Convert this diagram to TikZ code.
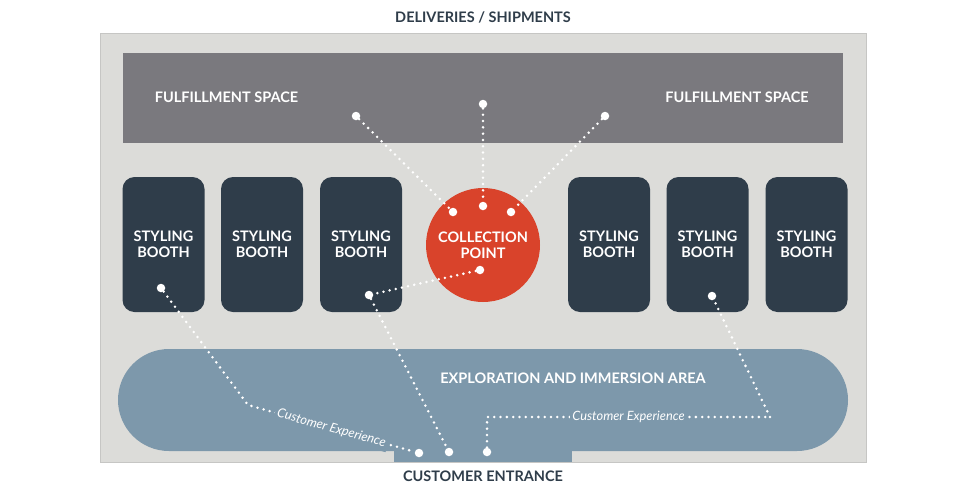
\documentclass[tikz,border=0pt]{standalone}
\usepackage{fontspec}
\setmainfont{Lato}
\definecolor{bgG}{HTML}{DCDCD9}
\definecolor{borderC}{HTML}{C6C6C4}
\definecolor{fulC}{HTML}{7A797E}
\definecolor{boothC}{HTML}{2F3D4A}
\definecolor{redC}{HTML}{D9432B}
\definecolor{areaC}{HTML}{7D98AB}
\begin{document}
\begin{tikzpicture}[x=1pt,y=-1pt,
  lbl/.style={text=white, font=\bfseries\fontsize{14.5}{16}\selectfont, align=center, inner sep=0pt},
  darklbl/.style={text=boothC, font=\bfseries\fontsize{14.5}{16}\selectfont, inner sep=0pt},
  booth/.style={fill=boothC, rounded corners=12pt, minimum width=82pt, minimum height=135pt, lbl},
  pathdot/.style={draw=white, line width=2.8pt, dash pattern=on 0pt off 6.3pt, line cap=round},
  enddot/.style={circle, fill=white, inner sep=0pt, minimum size=8.5pt},
  cx/.style={text=white, font=\itshape\fontsize{12.8}{14}\selectfont, fill=areaC, inner sep=2.5pt}]
\useasboundingbox (0,0) rectangle (965,490);
\fill[white] (0,0) rectangle (965,490);
% outer floor
\node[fill=bgG, draw=borderC, line width=1pt, minimum width=766pt, minimum height=429pt, inner sep=0pt] (floor) at (483,247.5) {};
% fulfillment
\node[fill=fulC, minimum width=720pt, minimum height=90pt, inner sep=0pt] (ful) at (483,98) {};
\node[lbl] (fl1) at (226.5,97) {FULFILLMENT SPACE};
\node[lbl] (fl2) at (737,97) {FULFILLMENT SPACE};
% booths
\node[booth] (bo1) at (163.5,244.5) {STYLING\\BOOTH};
\node[booth] (bo2) at (262,244.5) {STYLING\\BOOTH};
\node[booth] (bo3) at (361,244.5) {STYLING\\BOOTH};
\node[booth] (bo4) at (609,244.5) {STYLING\\BOOTH};
\node[booth] (bo5) at (707.5,244.5) {STYLING\\BOOTH};
\node[booth] (bo6) at (806.5,244.5) {STYLING\\BOOTH};
% collection point
\node[circle, fill=redC, minimum size=114pt, inner sep=0pt, lbl] (cp) at (483,245) {COLLECTION\\POINT};
% exploration area
\node[fill=areaC, rounded corners=51pt, minimum width=730pt, minimum height=102pt, inner sep=0pt] (area) at (483,400) {};
\fill[areaC] (394,440) rectangle (572,462);
\node[lbl] (arealbl) at (573,378) {EXPLORATION AND IMMERSION AREA};
% titles
\node[darklbl] (deliv) at (483,17) {DELIVERIES / SHIPMENTS};
\node[darklbl] (entr) at (483,476) {CUSTOMER ENTRANCE};
% path points
\node[enddot] (f1) at (356,116) {};
\node[enddot] (f2) at (483,104) {};
\node[enddot] (f3) at (605,116) {};
\node[enddot] (c1) at (453,212) {};
\node[enddot] (c2) at (483,206) {};
\node[enddot] (c3) at (511,212) {};
\node[enddot] (c4) at (480,270) {};
\node[enddot] (b1) at (161,288) {};
\node[enddot] (b3) at (369,295) {};
\node[enddot] (b5) at (712,296) {};
\node[enddot] (e1) at (419,453) {};
\node[enddot] (e2) at (449,452) {};
\node[enddot] (e3) at (487,452) {};
\coordinate (k1) at (248,405);
\coordinate (k2) at (487,417);
\coordinate (k3) at (770,417);
% dotted paths
\draw[pathdot] (f1) -- (c1);
\draw[pathdot] (f2) -- (c2);
\draw[pathdot] (f3) -- (c3);
\draw[pathdot] (c4) -- (b3);
\draw[pathdot] (b3) -- (e2);
\draw[pathdot] (b1) -- (k1) -- (e1) node[pos=0.5, sloped, cx] (t1) {Customer Experience};
\draw[pathdot] (e3) -- (k2) -- (k3) node[pos=0.5, cx] (t2) {Customer Experience};
\draw[pathdot] (k3) -- (b5);
\end{tikzpicture}
\end{document}
